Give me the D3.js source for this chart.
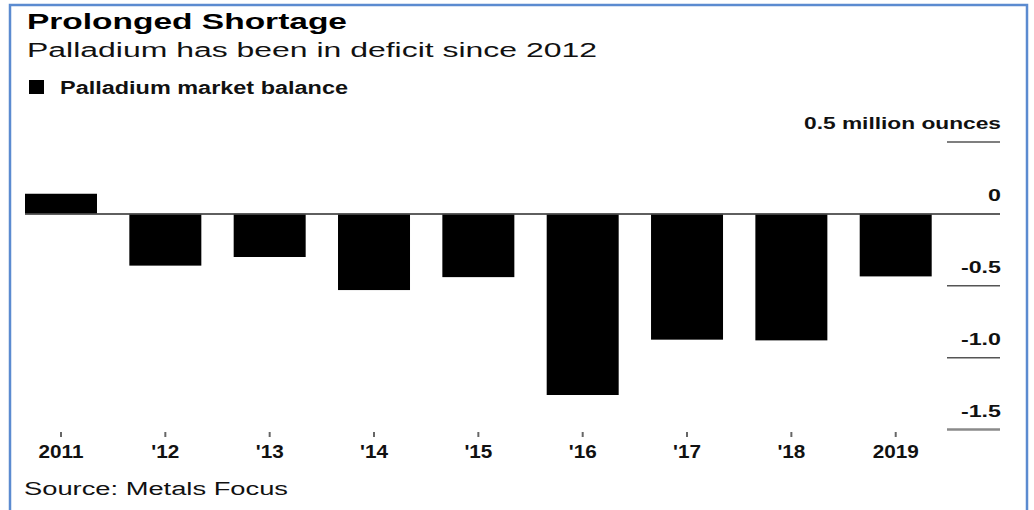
<!DOCTYPE html>
<html>
<head>
<meta charset="utf-8">
<script src="https://cdn.jsdelivr.net/npm/d3@7"></script>
<style>
  body { margin: 0; background: #fff; }
  svg { display: block; font-family: "Liberation Sans", Arial, sans-serif; }
</style>
</head>
<body>
<svg width="1034" height="510"></svg>
<script>
const years = ["2011", "'12", "'13", "'14", "'15", "'16", "'17", "'18", "2019"];
const balance = [0.14, -0.36, -0.30, -0.53, -0.44, -1.26, -0.875, -0.88, -0.435];
const yTicks = [0.5, 0, -0.5, -1.0, -1.5];
const yTickLabels = ["0.5 million ounces", "0", "-0.5", "-1.0", "-1.5"];

const svg = d3.select("svg");
const width = +svg.attr("width");
const height = +svg.attr("height");

// squeeze/stretch text horizontally to match the wide lettering of the original
const stretch = (sel, factor) => sel.each(function() {
	const w = this.getComputedTextLength();
	d3.select(this).attr("textLength", w * factor).attr("lengthAdjust", "spacingAndGlyphs");
});
const fit = (sel, w) => sel.attr("textLength", w).attr("lengthAdjust", "spacingAndGlyphs");

// frame
svg.append("rect")
	.attr("x", 10).attr("y", 5)
	.attr("width", 1017).attr("height", height + 20)
	.attr("fill", "none")
	.attr("stroke", "#5b8bd0")
	.attr("stroke-width", 2.5);

// headings
svg.append("text").attr("x", 27).attr("y", 29)
	.attr("font-size", 22).attr("font-weight", "bold").attr("fill", "#000")
	.text("Prolonged Shortage").call(fit, 320);
svg.append("text").attr("x", 27).attr("y", 57)
	.attr("font-size", 20).attr("fill", "#111")
	.text("Palladium has been in deficit since 2012").call(fit, 570);

// legend
svg.append("rect").attr("x", 29).attr("y", 80).attr("width", 15).attr("height", 14).attr("fill", "#000");
svg.append("text").attr("x", 60).attr("y", 94)
	.attr("font-size", 18).attr("font-weight", "bold").attr("fill", "#111")
	.text("Palladium market balance").call(fit, 288);

const xScale = d3.scaleBand()
	.domain(years)
	.range([25, 931.7])
	.paddingInner(0.31)
	.paddingOuter(0);

const yScale = d3.scaleLinear()
	.domain([-1.5, 0.5])
	.range([429.5, 142]);

// right-hand gridline stubs and labels
const tick = svg.append("g").selectAll("g").data(yTicks).enter().append("g")
	.attr("transform", d => `translate(0, ${yScale(d)})`);
tick.append("line")
	.attr("x1", d => d === 0 ? xScale.range()[0] : 947)
	.attr("x2", 1000)
	.attr("stroke", (d, i) => i === yTicks.length - 1 ? "#8a8a8a" : "#555")
	.attr("stroke-width", (d, i) => i === yTicks.length - 1 ? 2.5 : 1.5);
tick.append("text")
	.attr("x", 1001).attr("y", -13)
	.attr("text-anchor", "end")
	.attr("font-size", 16).attr("font-weight", "bold").attr("fill", "#111")
	.text((d, i) => yTickLabels[i])
	.each(function(d, i) {
		if (i === 0) d3.select(this).call(fit, 197);
		else d3.select(this).call(stretch, 1.45);
	});

// bars
svg.append("g").selectAll("rect").data(balance).enter().append("rect")
	.attr("x", (d, i) => xScale(years[i]))
	.attr("y", d => yScale(Math.max(0, d)))
	.attr("width", xScale.bandwidth())
	.attr("height", d => Math.abs(yScale(d) - yScale(0)))
	.attr("fill", "#000");

// zero line over bars
svg.append("line")
	.attr("x1", xScale.range()[0]).attr("x2", 1000)
	.attr("y1", yScale(0)).attr("y2", yScale(0))
	.attr("stroke", "#555").attr("stroke-width", 1.5);

// x axis
const xAxis = d3.axisBottom(xScale).tickSize(5).tickSizeOuter(0);
const xg = svg.append("g").attr("transform", "translate(0, 432)").call(xAxis);
xg.select(".domain").remove();
xg.selectAll(".tick line").attr("stroke", "#666").attr("stroke-width", 2);
xg.selectAll(".tick text")
	.attr("y", 26).attr("dy", 0)
	.attr("font-family", "Liberation Sans, Arial, sans-serif")
	.attr("font-size", 18).attr("font-weight", "bold").attr("fill", "#111")
	.call(stretch, 1.15);

// source
svg.append("text").attr("x", 24).attr("y", 495)
	.attr("font-size", 18).attr("fill", "#111")
	.text("Source: Metals Focus").call(fit, 264);
</script>
</body>
</html>
